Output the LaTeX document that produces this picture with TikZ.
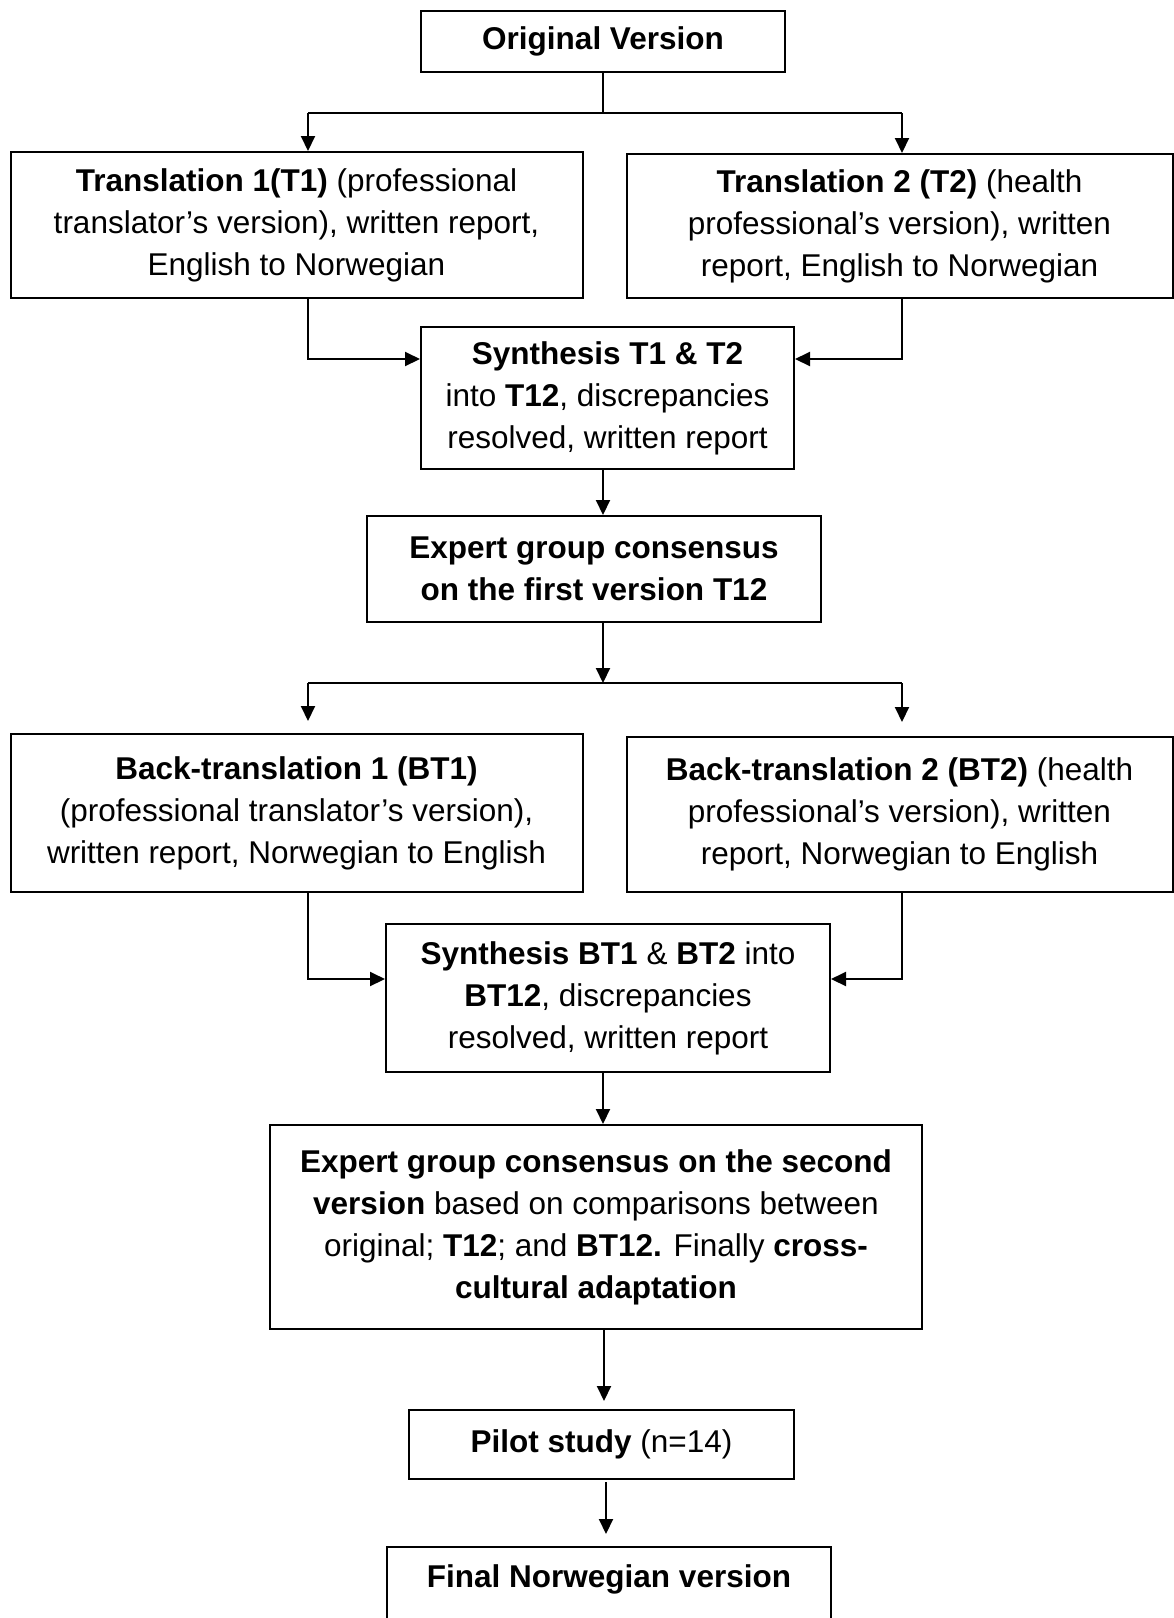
\documentclass[tikz,border=0pt]{standalone}
\usepackage{fontspec}
\setmainfont{Liberation Sans}
\usetikzlibrary{arrows.meta,calc}
\begin{document}
\begin{tikzpicture}[x=1pt,y=-1pt,
  box/.style={draw,line width=2pt,inner sep=0pt,align=center,font=\fontsize{31.5}{42}\selectfont},
  plain/.style={inner sep=0pt,align=center,font=\fontsize{31.5}{42}\selectfont},
  conn/.style={line width=2pt},
  arr/.style={line width=2pt,-{Triangle[length=15pt,width=14pt]}}]
\useasboundingbox (0,0) rectangle (1174,1618);
\clip (0,0) rectangle (1174,1618);
\fill[white] (0,0) rectangle (1174,1618);

\node[box,minimum width=364pt,minimum height=61pt] (orig) at (603,41.5) {\textbf{Original Version}};
\node[box,minimum width=572pt,minimum height=146pt] (t1) at (296.5,225) {\textbf{Translation 1(T1)} (professional\\ translator’s version), written report,\\ English to Norwegian};
\node[box,minimum width=546pt,minimum height=144pt] (t2) at (899.5,226) {\textbf{Translation 2 (T2)} (health\\ professional’s version), written\\ report, English to Norwegian};
\node[box,minimum width=373pt,minimum height=142pt] (synT) at (607.5,398) {\textbf{Synthesis T1 \& T2}\\ into \textbf{T12}, discrepancies\\ resolved, written report};
\node[box,minimum width=454pt,minimum height=106pt] (ex1) at (594,569) {\textbf{Expert group consensus}\\ \textbf{on the first version T12}};
\node[box,minimum width=572pt,minimum height=158pt] (bt1) at (296.5,813) {\textbf{Back-translation 1 (BT1)}\\ (professional translator’s version),\\ written report, Norwegian to English};
\node[box,minimum width=546pt,minimum height=155pt] (bt2) at (899.5,814.5) {\textbf{Back-translation 2 (BT2)} (health\\ professional’s version), written\\ report, Norwegian to English};
\node[box,minimum width=444pt,minimum height=148pt] (synBT) at (608,998) {\textbf{Synthesis BT1} \& \textbf{BT2} into\\ \textbf{BT12}, discrepancies\\ resolved, written report};
\node[box,minimum width=652pt,minimum height=204pt] (ex2) at (596,1227) {\textbf{Expert group consensus on the second}\\ \textbf{version} based on comparisons between\\ original; \textbf{T12}; and \textbf{BT12.} Finally \textbf{cross-}\\ \textbf{cultural adaptation}};
\node[box,minimum width=385pt,minimum height=69pt] (pilot) at (601.5,1444.5) {\textbf{Pilot study} (n=14)};
\node[box,minimum width=444pt,minimum height=150pt,anchor=north] (final) at (609,1546) {};
\node[plain,anchor=base] (finaltxt) at (609,1587) {\textbf{Final Norwegian version}};

% first split
\coordinate (s1) at (603,113);
\coordinate (s1L) at (308,113);
\coordinate (s1R) at (902,113);
\draw[conn] (orig.south -| s1) -- (s1);
\draw[conn] (s1L) -- (s1R);
\draw[arr] (s1L) -- (s1L |- t1.north);
\draw[arr] (s1R) -- (s1R |- t2.north);

% join into synthesis T
\coordinate (j1L) at (308,359);
\coordinate (j1R) at (902,359);
\draw[arr] (t1.south -| j1L) |- (j1L -| synT.west);
\draw[arr] (t2.south -| j1R) |- (j1R -| synT.east);

\draw[arr] (synT.south -| s1) -- (s1 |- ex1.north);

% second split
\coordinate (s2) at (603,683);
\coordinate (s2L) at (308,683);
\coordinate (s2R) at (902,683);
\draw[arr] (ex1.south -| s2) -- (s2);
\draw[conn] (s2L) -- (s2R);
\draw[arr,shorten >=12pt] (s2L) -- (s2L |- bt1.north);
\draw[arr,shorten >=14pt] (s2R) -- (s2R |- bt2.north);

% join into synthesis BT
\coordinate (j2L) at (308,979);
\coordinate (j2R) at (902,979);
\draw[arr] (bt1.south -| j2L) |- (j2L -| synBT.west);
\draw[arr] (bt2.south -| j2R) |- (j2R -| synBT.east);

\draw[arr] (synBT.south -| s1) -- (s1 |- ex2.north);
\coordinate (p1) at (604,0);
\draw[arr,shorten >=8pt] (ex2.south -| p1) -- (p1 |- pilot.north);
\coordinate (p2) at (606,0);
\draw[arr,shorten >=12pt,shorten <=2pt] (pilot.south -| p2) -- (p2 |- final.north);
\end{tikzpicture}
\end{document}
